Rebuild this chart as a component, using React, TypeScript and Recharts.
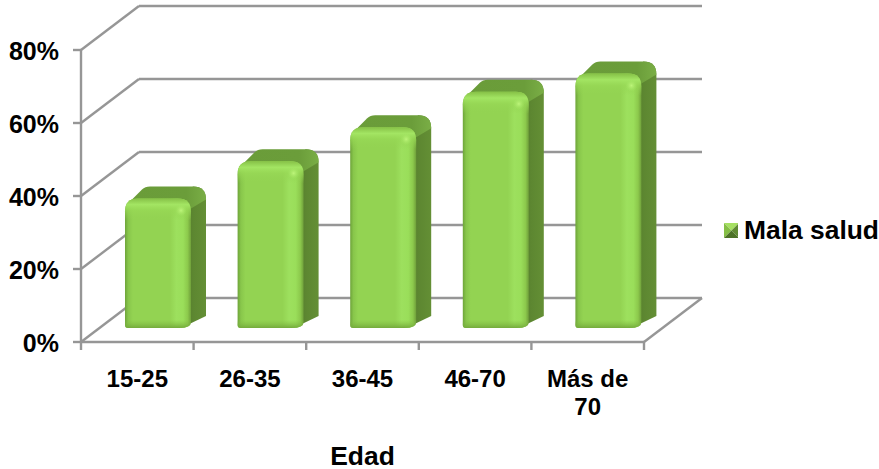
import React from 'react';
import { BarChart, Bar, XAxis, YAxis, CartesianGrid, Legend } from 'recharts';

const categories = ['15-25', '26-35', '36-45', '46-70', 'Más de 70'];
const malaSalud = [35.5, 45.7, 55, 64.7, 69.7];
const yTicks = [0, 20, 40, 60, 80];

const data = categories.map((name, i) => ({ name, value: malaSalud[i] }));

const AXIS = '#969696';
const FONT = '"Liberation Sans", Arial, sans-serif';
const WALL_X = 58;
const WALL_Y = 44;
const BAR_DX = 21;
const BAR_DY = 14;
const BAND = (644 - 81) / categories.length;
const FLOOR_Y = 342;

const Bar3D = (props: any) => {
  const { x, y, width, height } = props;
  const l = x + BAR_DX;
  const r = l + width;
  const top = y - BAR_DY;
  const bottom = top + height;
  const dx = 15;
  const dy = 12;
  const c = 13;
  const topEdge = `L${l},${top + c} Q${l},${top} ${l + c},${top} L${r - c},${top} Q${r},${top} ${r},${top + c}`;
  const front = `M${l},${bottom - 3} ${topEdge} L${r},${bottom - 6} Q${r},${bottom} ${r - 12},${bottom} L${l + 3},${bottom} Q${l},${bottom} ${l},${bottom - 3} Z`;
  const side = `M${r - 10},${bottom} L${r + dx},${bottom - dy} L${r + dx},${top - dy + c} Q${r + dx},${top - dy} ${r + dx - c},${top - dy} L${r - 10},${top} Z`;
  const cap = `M${l + 3},${top + 5} L${l + dx + 2},${top - dy + 3} Q${l + dx + 5},${top - dy} ${l + dx + 10},${top - dy} L${r + dx - c},${top - dy} Q${r + dx},${top - dy} ${r + dx},${top - dy + c} L${r},${top + 10} Z`;
  return (
    <g>
      <path d={side} fill="url(#sideFill)" />
      <path d={cap} fill="url(#capFill)" />
      <path d={front} fill="url(#frontFill)" />
      <path d={`M${l},${top + 22} ${topEdge} L${r},${top + 22} Z`} fill="url(#bevelFill)" />
      <path d={`M${l},${bottom - 3} L${l},${bottom - 8} L${r},${bottom - 8} L${r},${bottom - 6} Q${r},${bottom} ${r - 12},${bottom} L${l + 3},${bottom} Q${l},${bottom} ${l},${bottom - 3} Z`} fill="url(#baseFill)" />
      <circle cx={r - 10} cy={top + 12} r={6} fill="url(#glint)" />
    </g>
  );
};

// back wall line plus the diagonal on the left wall, one per grid line
const WallLine = (props: any) => {
  const { x1, y1, x2, y2 } = props;
  return (
    <g stroke={AXIS} strokeWidth={2.4} fill="none">
      <line x1={x1} y1={y1} x2={x1 + WALL_X} y2={y1 - WALL_Y} />
      <line x1={x1 + WALL_X} y1={y1 - WALL_Y} x2={x2 + WALL_X} y2={y2 - WALL_Y} />
      {Math.round(y1) === FLOOR_Y && <line x1={x2} y1={y2} x2={x2 + WALL_X} y2={y2 - WALL_Y} />}
    </g>
  );
};

const CategoryTick = (props: any) => {
  const { x, y, index, payload } = props;
  const value: string = payload.value;
  const lines = value === 'Más de 70' ? ['Más de', '70'] : [value];
  return (
    <g>
      <line x1={x - BAND / 2} y1={y - 8} x2={x - BAND / 2} y2={y} stroke={AXIS} strokeWidth={2.4} />
      {index === categories.length - 1 && (
        <line x1={x + BAND / 2} y1={y - 8} x2={x + BAND / 2} y2={y} stroke={AXIS} strokeWidth={2.4} />
      )}
      <text textAnchor="middle" fontFamily={FONT} fontWeight="bold" fontSize={24} fill="#000">
        {lines.map((t, i) => (
          <tspan key={t} x={x} y={y + 37 + i * 28}>{t}</tspan>
        ))}
      </text>
    </g>
  );
};

const LegendBox = () => (
  <div style={{ display: 'flex', alignItems: 'center', fontFamily: FONT, fontWeight: 'bold', fontSize: 26.4, color: '#000', whiteSpace: 'nowrap' }}>
    <svg width={15} height={15} style={{ marginRight: 6 }}>
      <polygon points="0,0 15,0 7.5,7.5" fill="#a6e062" />
      <polygon points="0,0 7.5,7.5 0,15" fill="#86bf46" />
      <polygon points="15,0 15,15 7.5,7.5" fill="#5f8a32" />
      <polygon points="0,15 15,15 7.5,7.5" fill="#4d7227" />
    </svg>
    Mala salud
  </div>
);

export default function App() {
  return (
    <div style={{ position: 'absolute', left: 0, top: 0, width: 879, height: 469, background: '#fff' }}>
      <BarChart
        width={879}
        height={469}
        data={data}
        margin={{ top: 50, right: 235, bottom: 0, left: 0 }}
      >
        <defs>
          <linearGradient id="frontFill" x1="0" y1="0" x2="1" y2="0">
            <stop offset="0" stopColor="#6ea43a" />
            <stop offset="0.05" stopColor="#88c64b" />
            <stop offset="0.12" stopColor="#93d352" />
            <stop offset="0.68" stopColor="#93d352" />
            <stop offset="0.78" stopColor="#9de05e" />
            <stop offset="0.88" stopColor="#9ade5a" />
            <stop offset="0.95" stopColor="#8cc94c" />
            <stop offset="1" stopColor="#6f9f3a" />
          </linearGradient>
          <linearGradient id="bevelFill" x1="0" y1="0" x2="0" y2="1">
            <stop offset="0" stopColor="#86c147" stopOpacity="1" />
            <stop offset="0.28" stopColor="#a3e563" stopOpacity="1" />
            <stop offset="0.55" stopColor="#98d956" stopOpacity="0.7" />
            <stop offset="1" stopColor="#93d352" stopOpacity="0" />
          </linearGradient>
          <linearGradient id="baseFill" x1="0" y1="0" x2="0" y2="1">
            <stop offset="0" stopColor="#84c045" stopOpacity="0" />
            <stop offset="1" stopColor="#74aa3c" stopOpacity="1" />
          </linearGradient>
          <linearGradient id="sideFill" x1="0" y1="0" x2="1" y2="0">
            <stop offset="0" stopColor="#4f7529" />
            <stop offset="0.5" stopColor="#5d8731" />
            <stop offset="1" stopColor="#648f35" />
          </linearGradient>
          <linearGradient id="capFill" x1="0" y1="0" x2="1" y2="0">
            <stop offset="0" stopColor="#6a9c39" />
            <stop offset="0.75" stopColor="#6b9d3a" />
            <stop offset="1" stopColor="#7aae46" />
          </linearGradient>
          <radialGradient id="glint">
            <stop offset="0" stopColor="#bdf57a" />
            <stop offset="1" stopColor="#a3e563" stopOpacity="0" />
          </radialGradient>
        </defs>
        <CartesianGrid vertical={false} horizontal={<WallLine />} />
        <XAxis
          dataKey="name"
          height={127}
          axisLine={{ stroke: AXIS, strokeWidth: 2.4 }}
          tickLine={false}
          tick={<CategoryTick />}
          interval={0}
          label={{ value: 'Edad', position: 'insideBottom', offset: 4, fontFamily: FONT, fontWeight: 'bold', fontSize: 26.4, fill: '#000' }}
        />
        <YAxis
          width={81}
          domain={[0, 80]}
          ticks={yTicks}
          tickFormatter={(v: number) => `${v}%`}
          axisLine={{ stroke: AXIS, strokeWidth: 2.4 }}
          tickLine={{ stroke: AXIS, strokeWidth: 2.4 }}
          tickSize={8}
          tickMargin={14}
          tick={{ fontFamily: FONT, fontWeight: 'bold', fontSize: 25, fill: '#000', dy: 1 }}
        />
        <Bar dataKey="value" name="Mala salud" barSize={66} shape={<Bar3D />} isAnimationActive={false} />
        <Legend layout="horizontal" verticalAlign="middle" content={<LegendBox />} wrapperStyle={{ left: 724, top: 215, width: 155 }} />
      </BarChart>
    </div>
  );
}
